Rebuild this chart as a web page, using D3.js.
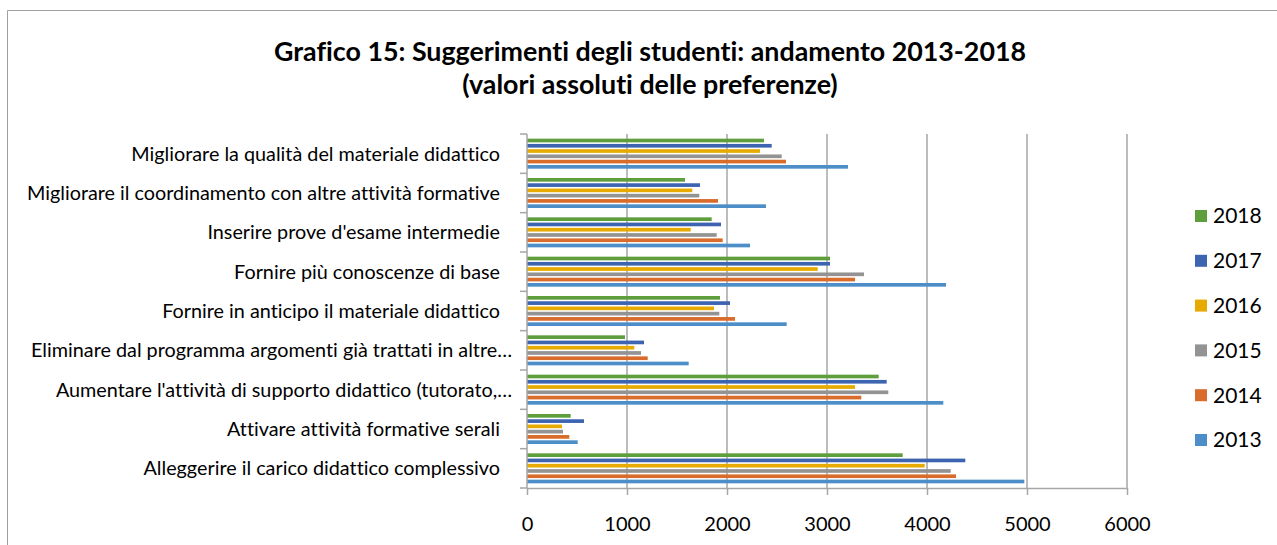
<!DOCTYPE html>
<html lang="it">
<head>
<meta charset="UTF-8">
<title>Grafico 15</title>
<script src="https://d3js.org/d3.v7.min.js"></script>
<style>
  body { margin: 0; background: #fff; }
  svg text { font-family: Lato, "Open Sans", sans-serif; fill: #000; font-variant-ligatures: none; }
</style>
</head>
<body>
<svg width="1277" height="545"></svg>
<script>
// categories top to bottom
const categories = [
  "Migliorare la qualità del materiale didattico",
  "Migliorare il coordinamento con altre attività formative",
  "Inserire prove d'esame intermedie",
  "Fornire più conoscenze di base",
  "Fornire in anticipo il materiale didattico",
  "Eliminare dal programma argomenti già trattati in altre…",
  "Aumentare l'attività di supporto didattico (tutorato,…",
  "Attivare attività formative serali",
  "Alleggerire il carico didattico complessivo"
];

const years = ["2018", "2017", "2016", "2015", "2014", "2013"];
const colors = ["#5f9e3d", "#3c64b1", "#e6aa00", "#939393", "#d96b2b", "#4d8ec9"];

const v2018 = [2370, 1580, 1847, 3030, 1930, 980, 3517, 437, 3757];
const v2017 = [2447, 1730, 1940, 3030, 2030, 1170, 3597, 570, 4383];
const v2016 = [2330, 1653, 1637, 2907, 1870, 1073, 3280, 350, 3977];
const v2015 = [2547, 1723, 1897, 3370, 1923, 1140, 3613, 360, 4237];
const v2014 = [2590, 1910, 1957, 3280, 2080, 1207, 3343, 423, 4290];
const v2013 = [3210, 2390, 2230, 4190, 2597, 1617, 4163, 507, 4973];
const seriesValues = [v2018, v2017, v2016, v2015, v2014, v2013];

const xTicks = [0, 1000, 2000, 3000, 4000, 5000, 6000];

const svg = d3.select("svg");
const plot = { left: 527, right: 1127, top: 134, bottom: 488 };

// chart frame
svg.append("path")
   .attr("d", "M7.5,545 V10.5 H1300")
   .attr("fill", "none")
   .attr("stroke", "#a0a0a0")
   .attr("stroke-width", 1);

// title
const title = svg.append("text")
   .attr("text-anchor", "middle")
   .style("font-size", "26.8px")
   .style("font-weight", "bold");
title.append("tspan").attr("x", 650).attr("y", 61)
     .text("Grafico 15: Suggerimenti degli studenti: andamento 2013-2018");
title.append("tspan").attr("x", 650).attr("y", 94)
     .text("(valori assoluti delle preferenze)");

const x = d3.scaleLinear().domain([0, 6000]).range([plot.left, plot.right]);

const y0 = d3.scaleBand()
   .domain(categories)
   .range([plot.top, plot.bottom])
   .paddingInner(0.237)
   .paddingOuter(0.1186);

const y1 = d3.scaleBand()
   .domain(years)
   .range([0, y0.bandwidth()])
   .paddingInner(0.3)
   .paddingOuter(0);

// gridlines
svg.append("g")
   .selectAll("line")
   .data(xTicks.slice(1))
   .join("line")
   .attr("x1", d => x(d)).attr("x2", d => x(d))
   .attr("y1", plot.top).attr("y2", plot.bottom)
   .attr("stroke", "#a6a6a6")
   .attr("stroke-width", 1.5);

// bars
const groups = svg.append("g")
   .selectAll("g")
   .data(categories)
   .join("g")
   .attr("transform", d => `translate(0,${y0(d)})`);

groups.selectAll("rect")
   .data((c, i) => years.map((yr, j) => ({ year: yr, value: seriesValues[j][i], color: colors[j] })))
   .join("rect")
   .attr("x", x(0))
   .attr("y", d => y1(d.year))
   .attr("width", d => x(d.value) - x(0))
   .attr("height", y1.bandwidth())
   .attr("fill", d => d.color);

// x axis
const xAxis = svg.append("g")
   .attr("transform", `translate(0,${plot.bottom})`)
   .call(d3.axisBottom(x).tickValues(xTicks).tickFormat(d3.format("d"))
           .tickSize(7).tickPadding(22).tickSizeOuter(0));
xAxis.select(".domain").attr("stroke", "#a6a6a6").attr("stroke-width", 1.5);
xAxis.selectAll(".tick line").attr("stroke", "#a6a6a6").attr("stroke-width", 1.5);
xAxis.selectAll("text").style("font-size", "20px").style("font-family", "Lato, sans-serif");

// y axis (category separators)
const sepTicks = categories.map(c => y0(c) - y0.step() * y0.paddingInner() / 2);
sepTicks.push(plot.bottom);
svg.append("line")
   .attr("x1", plot.left).attr("x2", plot.left)
   .attr("y1", plot.top).attr("y2", plot.bottom)
   .attr("stroke", "#a6a6a6").attr("stroke-width", 1.5);
svg.append("g")
   .selectAll("line")
   .data(sepTicks)
   .join("line")
   .attr("x1", plot.left - 7).attr("x2", plot.left)
   .attr("y1", d => d).attr("y2", d => d)
   .attr("stroke", "#a6a6a6").attr("stroke-width", 1.5);

// category labels
svg.append("g")
   .selectAll("text")
   .data(categories)
   .join("text")
   .attr("x", d => d.endsWith("…") ? 512 : 500)
   .attr("y", d => y0(d) + y0.bandwidth() / 2)
   .attr("dy", "0.35em")
   .attr("text-anchor", "end")
   .style("font-size", "19.8px")
   .text(d => d);

// legend
const legend = svg.append("g")
   .selectAll("g")
   .data(years)
   .join("g")
   .attr("transform", (d, i) => `translate(1195,${216 + i * 44.8})`);
legend.append("rect")
   .attr("x", 0).attr("y", -6)
   .attr("width", 12).attr("height", 12)
   .attr("fill", (d, i) => colors[i]);
legend.append("text")
   .attr("x", 18).attr("y", 0)
   .attr("dy", "0.35em")
   .style("font-size", "21px")
   .text(d => d);
</script>
</body>
</html>
